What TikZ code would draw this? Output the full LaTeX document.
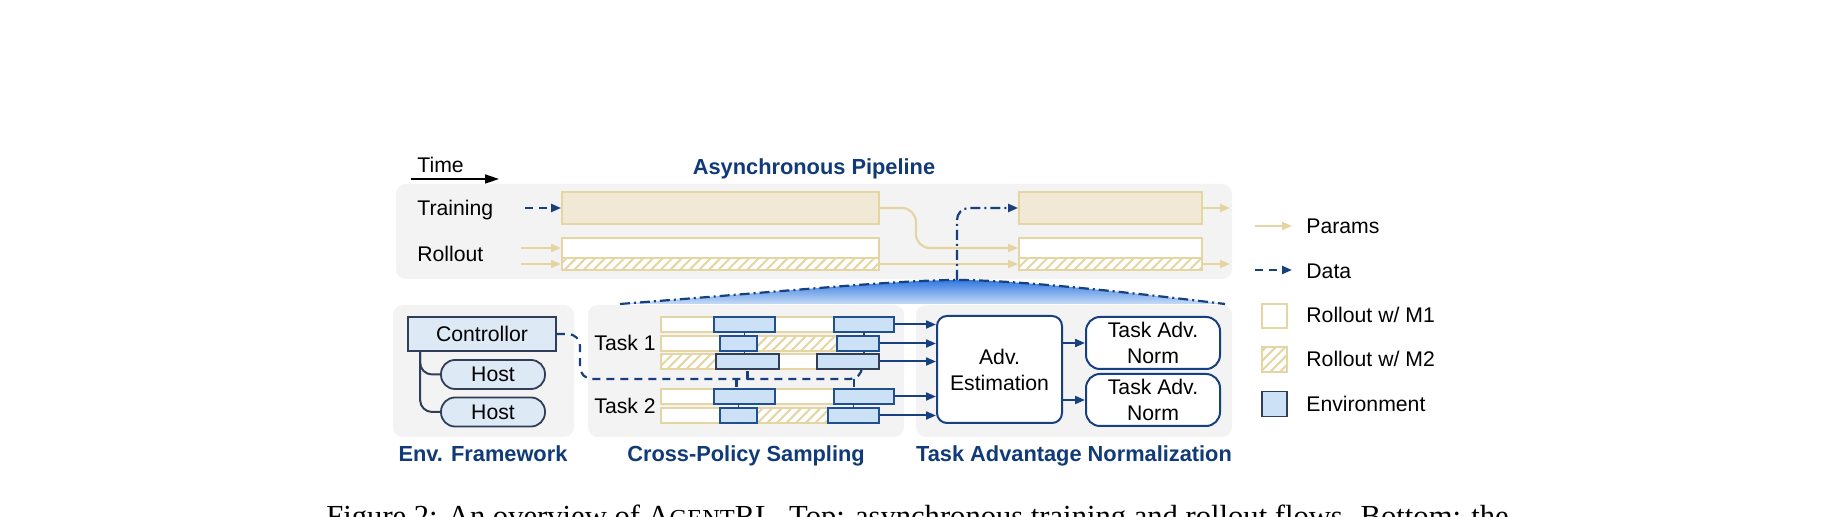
\documentclass[tikz,border=0pt]{standalone}
\usepackage{fontspec}
\setmainfont{Liberation Sans}
\newfontfamily\captionserif{Liberation Serif}
\usetikzlibrary{positioning, arrows.meta, patterns.meta}

\definecolor{parcol}{RGB}{229,213,163}
\definecolor{trainfill}{RGB}{241,233,214}
\definecolor{panelgray}{RGB}{243,243,243}
\definecolor{navy}{RGB}{16,58,120}
\definecolor{flowcol}{RGB}{22,64,128}
\definecolor{envfill}{RGB}{205,225,246}
\definecolor{ctrlfill}{RGB}{222,233,246}
\definecolor{envline}{RGB}{32,80,142}
\definecolor{slate}{RGB}{50,62,88}
\definecolor{gradtop}{RGB}{50,120,224}
\definecolor{gradbot}{RGB}{198,220,247}

\begin{document}
\begin{tikzpicture}[
      x=0.5pt, y=-0.5pt,
      every node/.style={font=\fontsize{10.6}{13}\selectfont, align=center, inner sep=0pt},
      head/.style={font=\fontsize{10.9}{13}\selectfont\bfseries, text=navy},
      panel/.style={fill=panelgray, rounded corners=5pt},
      trainbox/.style={draw=parcol, line width=0.9pt, fill=trainfill, minimum height=16pt},
      bar/.style={draw=parcol, line width=0.9pt, fill=white, minimum height=7.5pt},
      hatch/.style={bar, preaction={fill=white},
                    pattern={Lines[angle=45, distance=3.4pt, line width=1pt]},
                    pattern color=parcol},
      envbox/.style={draw=envline, fill=envfill, line width=0.9pt, minimum height=7.5pt},
      envdark/.style={envbox, draw=slate},
      host/.style={draw=slate, fill=ctrlfill, line width=0.9pt, rounded corners=7pt,
                   minimum width=52pt, minimum height=14.5pt},
      stage/.style={draw=flowcol, line width=1pt, fill=white, rounded corners=5pt},
      params/.style={-{Triangle[length=5pt, width=4pt]}, line width=1.1pt, draw=parcol},
      data/.style={-{Triangle[length=5pt, width=4pt]}, line width=1.1pt, draw=flowcol,
                   dash pattern=on 4pt off 3pt},
      datadot/.style={line width=1.1pt, draw=flowcol,
                      dash pattern=on 5pt off 2pt on 1pt off 2pt},
      flow/.style={-{Triangle[length=5pt, width=4pt]}, line width=1pt, draw=flowcol},
      link/.style={line width=0.7pt, draw=slate},
  ]
    \path[use as bounding box, fill=white] (0,0) rectangle (1836,517);

    %% --- panels ---
    \node[panel, minimum width=418pt, minimum height=47.5pt] (toppanel) at (814,231.5) {};
    \node[panel, minimum width=90.5pt, minimum height=66pt] (envpanel) at (483.5,371) {};
    \node[panel, minimum width=158pt, minimum height=66pt]  (cpspanel) at (746,371) {};
    \node[panel, minimum width=158pt, minimum height=66pt]  (tanpanel) at (1074,371) {};

    %% --- time axis and headline ---
    \node[anchor=base west] (time) at (417,173) {Time};
    \coordinate (t0) at (411,179);
    \coordinate (t1) at (499,179);
    \draw[-{Triangle[length=7pt, width=4.5pt]}, line width=0.85pt] (t0) -- (t1);
    \node[head, anchor=base] (pipe) at (814,175) {Asynchronous Pipeline};

    %% --- asynchronous pipeline rows ---
    \node[anchor=base west] (trainlbl) at (417,216) {Training};
    \node[anchor=base west] (rolllbl)  at (417,262) {Rollout};

    \node[trainbox, minimum width=158.5pt] (train1) at (720.5,208) {};
    \node[bar, minimum width=158.5pt, minimum height=10pt] (roll1) at (720.5,248) {};
    \node[hatch, minimum width=158.5pt, minimum height=6pt] (hatch1) at (720.5,264) {};

    \node[trainbox, minimum width=91.5pt] (train2) at (1110.5,208) {};
    \node[bar, minimum width=91.5pt, minimum height=10pt] (roll2) at (1110.5,248) {};
    \node[hatch, minimum width=91.5pt, minimum height=6pt] (hatch2) at (1110.5,264) {};

    \coordinate (tin) at (525,208);
    \coordinate (rin1) at (521,248);
    \coordinate (rin2) at (521,264);
    \coordinate (tout) at (1230,208);
    \coordinate (rout) at (1230,264);

    \draw[data] (tin) -- (train1.west);
    \draw[params] (rin1) -- (roll1.west);
    \draw[params] (rin2) -- (hatch1.west);
    \draw[params, rounded corners=7pt] (train1.east) -- ++(36,0) |- (roll2.west);
    \draw[params] (hatch1.east) -- (hatch2.west);
    \draw[params] (train2.east) -- (tout);
    \draw[params] (hatch2.east) -- (rout);

    %% --- zoom wedge down to the bottom stages ---
    \coordinate (gl) at (620,304);
    \coordinate (peak) at (957,280);
    \coordinate (gr) at (1225,304);
    \shade[top color=gradtop, bottom color=gradbot]
      (gl) .. controls (800,290) and (900,280) .. (peak)
           .. controls (1010,280) and (1110,290) .. (gr) -- cycle;
    \draw[datadot]
      (gl) .. controls (800,290) and (900,280) .. (peak)
           .. controls (1010,280) and (1110,290) .. (gr);
    \draw[datadot, -{Triangle[length=5pt, width=4pt]}, rounded corners=6pt]
      (peak) |- (train2.west);

    %% --- env framework ---
    \node[draw=slate, fill=ctrlfill, line width=0.9pt, minimum width=74pt,
          minimum height=17pt] (ctrl) at (482,334) {Controllor};
    \node[host] (host1) at (493,374.5) {Host};
    \node[host] (host2) at (493,412) {Host};
    \coordinate (trunk) at ([xshift=6.5pt]ctrl.south west);
    \draw[link, line width=1pt, rounded corners=6pt] (trunk) |- (host1.west);
    \draw[link, line width=1pt, rounded corners=6pt] (trunk) |- (host2.west);

    %% --- cross-policy sampling ---
    \node[anchor=base west] (task1) at (594,350.5) {Task 1};
    \node[anchor=base west] (task2) at (594,414) {Task 2};

    \node[bar, minimum width=116.5pt] (r1) at (777.5,324.5) {};
    \node[bar, minimum width=109pt]   (r2) at (770,343.5) {};
    \node[bar, minimum width=109pt]   (r3) at (770,361.5) {};
    \node[bar, minimum width=116.5pt] (r4) at (777.5,396.5) {};
    \node[bar, minimum width=109pt]   (r5) at (770,415.5) {};

    \node[hatch, minimum width=40pt]   (h2) at (797,343.5) {};
    \node[hatch, minimum width=27.5pt] (h3) at (688.5,361.5) {};
    \node[hatch, minimum width=35.5pt] (h5) at (792.5,415.5) {};

    \node[envbox, minimum width=30.5pt]  (e1a) at (744.5,324.5) {};
    \node[envbox, minimum width=30pt]    (e1b) at (864,324.5) {};
    \node[envbox, minimum width=18.5pt]  (e2a) at (738.5,343.5) {};
    \node[envbox, minimum width=21pt]    (e2b) at (858,343.5) {};
    \node[envdark, minimum width=31.5pt] (e3a) at (747.5,361.5) {};
    \node[envdark, minimum width=31pt]   (e3b) at (848,361.5) {};
    \node[envbox, minimum width=30.5pt]  (e4a) at (744.5,396.5) {};
    \node[envbox, minimum width=30pt]    (e4b) at (864,396.5) {};
    \node[envbox, minimum width=18.5pt]  (e5a) at (738.5,415.5) {};
    \node[envbox, minimum width=25.5pt]  (e5b) at (853.5,415.5) {};

    \draw[link] (e1a.south) -- (e1a.south |- e2a.north);
    \draw[link] (e1a.south |- e2a.south) -- (e1a.south |- e3a.north);
    \draw[link] (e1b.south) -- (e1b.south |- e2b.north);
    \draw[link] (e1b.south |- e2b.south) -- (e1b.south |- e3b.north);
    \draw[link] (e5a.north) -- (e5a.north |- e4a.south);
    \draw[link] (e5b.north) -- (e5b.north |- e4b.south);

    %% --- controller reaches the environments ---
    \coordinate (bus) at (580,379);
    \coordinate (tapb) at ([xshift=7pt]e3b.south);
    \coordinate (d4a) at ([xshift=-4pt]e4a.north);
    \coordinate (d4b) at ([xshift=-5pt]e4b.north);
    \draw[data, -, rounded corners=6pt] (ctrl.east) -| (bus) -| (tapb);
    \draw[data, -] (bus -| e3a.south) -- (e3a.south);
    \draw[data, -] (d4a |- bus) -- (d4a);
    \draw[data, -] (d4b |- bus) -- (d4b);

    %% --- task advantage normalization ---
    \node[stage, minimum width=62.5pt, minimum height=53.5pt] (adv) at (999.5,369.5)
      {Adv.\\Estimation};
    \node[stage, rounded corners=7pt, minimum width=67pt, minimum height=26pt]
      (norm1) at (1153,343) {Task Adv.\\Norm};
    \node[stage, rounded corners=7pt, minimum width=67pt, minimum height=26pt]
      (norm2) at (1153,400) {Task Adv.\\Norm};

    \draw[flow] (e1b.east) -- (e1b.east -| adv.west);
    \draw[flow] (e2b.east) -- (e2b.east -| adv.west);
    \draw[flow] (e3b.east) -- (e3b.east -| adv.west);
    \draw[flow] (e4b.east) -- (e4b.east -| adv.west);
    \draw[flow] (e5b.east) -- (e5b.east -| adv.west);
    \draw[flow] (adv.east |- norm1.west) -- (norm1.west);
    \draw[flow] (adv.east |- norm2.west) -- (norm2.west);

    %% --- stage captions ---
    \node[head, anchor=base] (envcap) at (483,462) {Env. Framework};
    \node[head, anchor=base] (cpscap) at (746,462) {Cross-Policy Sampling};
    \node[head, anchor=base] (tancap) at (1074,462) {Task Advantage Normalization};

    %% --- legend ---
    \coordinate (lgp0) at (1255,226);
    \coordinate (lgp1) at (1292,226);
    \coordinate (lgd0) at (1255,270);
    \coordinate (lgd1) at (1292,270);
    \draw[params] (lgp0) -- (lgp1);
    \draw[data] (lgd0) -- (lgd1);
    \node[anchor=base west] (lgparams) at (1306,234) {Params};
    \node[anchor=base west] (lgdata)   at (1306,279) {Data};
    \node[bar, minimum width=12.5pt, minimum height=12pt] (lgm1) at (1274.8,316) {};
    \node[hatch, minimum width=12.5pt, minimum height=12.5pt] (lgm2) at (1274.8,359.5) {};
    \node[envdark, minimum width=12.5pt, minimum height=12.5pt] (lgenv) at (1274.8,404) {};
    \node[anchor=base west] (lgm1t)  at (1306,323) {Rollout w/ M1};
    \node[anchor=base west] (lgm2t)  at (1306,367) {Rollout w/ M2};
    \node[anchor=base west] (lgenvt) at (1306,412) {Environment};

    %% --- caption, cut by the page edge ---
    \node[anchor=base west, font=\captionserif\fontsize{15.3}{18}\selectfont] (caption)
      at (326,526.5) {Figure 2: An overview of A{\fontsize{12.2}{14}\selectfont GENT}RL.
      Top: asynchronous training and rollout flows. Bottom: the};
  \end{tikzpicture}
\end{document}
